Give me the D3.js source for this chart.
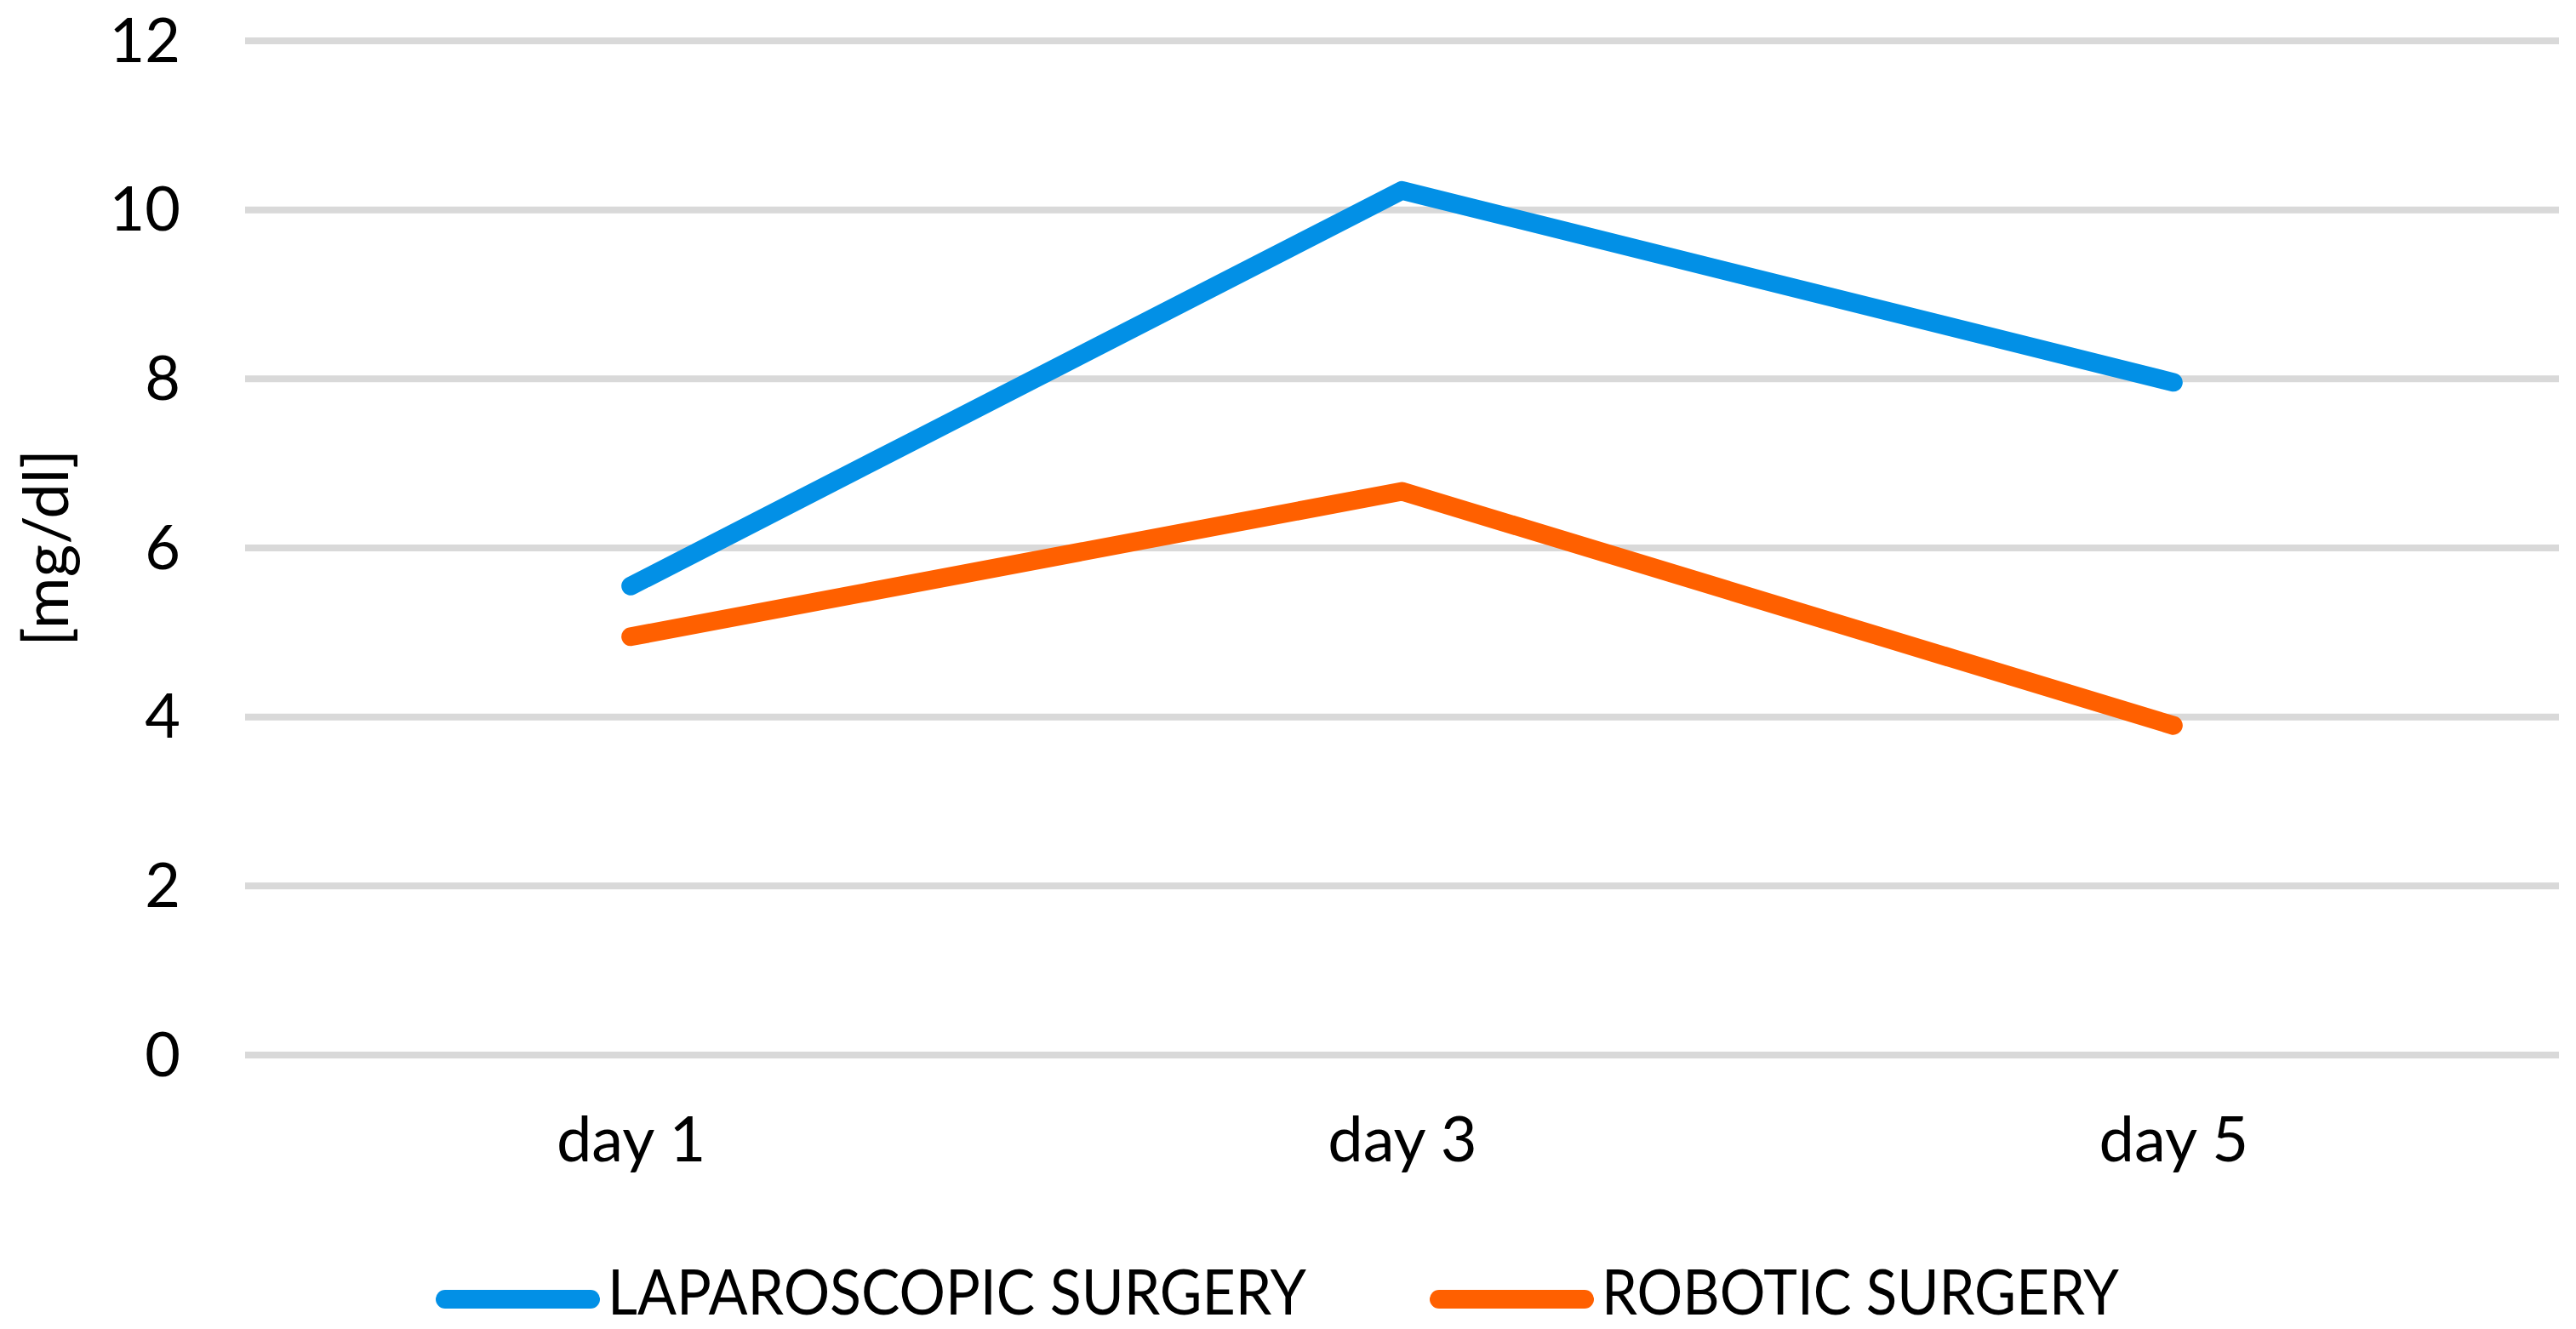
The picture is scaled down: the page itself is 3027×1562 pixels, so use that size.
<!DOCTYPE html>
<html>
<head>
<meta charset="utf-8">
<script src="https://cdn.jsdelivr.net/npm/d3@7"></script>
<style>
  html, body { margin: 0; padding: 0; background: #fff; }
  svg { display: block; }
  text { font-family: Lato, "Open Sans", sans-serif; fill: #000; }
</style>
</head>
<body>
<svg id="chart" width="3027" height="1562"></svg>
<script>
const categories = ["day 1", "day 3", "day 5"];
const seriesNames = ["LAPAROSCOPIC SURGERY", "ROBOTIC SURGERY"];
const laparoscopic = [5.55, 10.23, 7.96];
const robotic = [4.95, 6.67, 3.9];
const yTicks = [0, 2, 4, 6, 8, 10, 12];
const colors = ["#0290E6", "#FF6000"];

const svg = d3.select("#chart");
const plotLeft = 288, plotRight = 3007, plotTop = 48, plotBottom = 1240;
const fontSize = 74;

const x = d3.scalePoint().domain(categories).range([plotLeft, plotRight]).padding(0.5);
const y = d3.scaleLinear().domain([0, 12]).range([plotBottom, plotTop]);

// gridlines
svg.append("g").selectAll("line").data(yTicks).join("line")
  .attr("x1", plotLeft).attr("x2", plotRight)
  .attr("y1", d => y(d)).attr("y2", d => y(d))
  .attr("stroke", "#D9D9D9").attr("stroke-width", 8);

// y axis labels
const yAxis = d3.axisLeft(y).tickValues(yTicks).tickSize(0).tickPadding(0).tickFormat(d3.format("d"));
const yg = svg.append("g").attr("transform", "translate(212,0)").call(yAxis);
yg.select(".domain").remove();
yg.selectAll("text").attr("font-size", 72).attr("font-family", "Lato, sans-serif")
  .attr("fill", "#000").attr("dy", null).attr("dominant-baseline", "auto")
  .attr("y", 24).attr("x", 0).style("text-anchor", "end");

// x axis labels
const xAxis = d3.axisBottom(x).tickSize(0).tickPadding(0);
const xg = svg.append("g").attr("transform", "translate(0,1365)").call(xAxis);
xg.select(".domain").remove();
xg.selectAll("text").attr("font-size", fontSize).attr("font-family", "Lato, sans-serif")
  .attr("fill", "#000").attr("dy", null).attr("y", 0);

// y axis title
svg.append("text")
  .attr("transform", "translate(80,644) rotate(-90)")
  .attr("text-anchor", "middle")
  .attr("font-size", fontSize)
  .text("[mg/dl]");

// lines
const line = d3.line().x((d, i) => x(categories[i])).y(d => y(d));
[laparoscopic, robotic].forEach((s, k) => {
  svg.append("path").datum(s)
    .attr("d", line)
    .attr("fill", "none")
    .attr("stroke", colors[k])
    .attr("stroke-width", 22)
    .attr("stroke-linecap", "round")
    .attr("stroke-linejoin", "round");
});

// legend
const legendX = [523, 1691];
const legendTextLen = [821, 608];
const legendG = svg.append("g");
seriesNames.forEach((name, k) => {
  legendG.append("line")
    .attr("x1", legendX[k]).attr("x2", legendX[k] + 171)
    .attr("y1", 1527).attr("y2", 1527)
    .attr("stroke", colors[k]).attr("stroke-width", 22)
    .attr("stroke-linecap", "round");
  legendG.append("text")
    .attr("x", legendX[k] + 191)
    .attr("y", 1545)
    .attr("font-size", fontSize)
    .attr("textLength", legendTextLen[k])
    .attr("lengthAdjust", "spacingAndGlyphs")
    .text(name);
});
</script>
</body>
</html>
